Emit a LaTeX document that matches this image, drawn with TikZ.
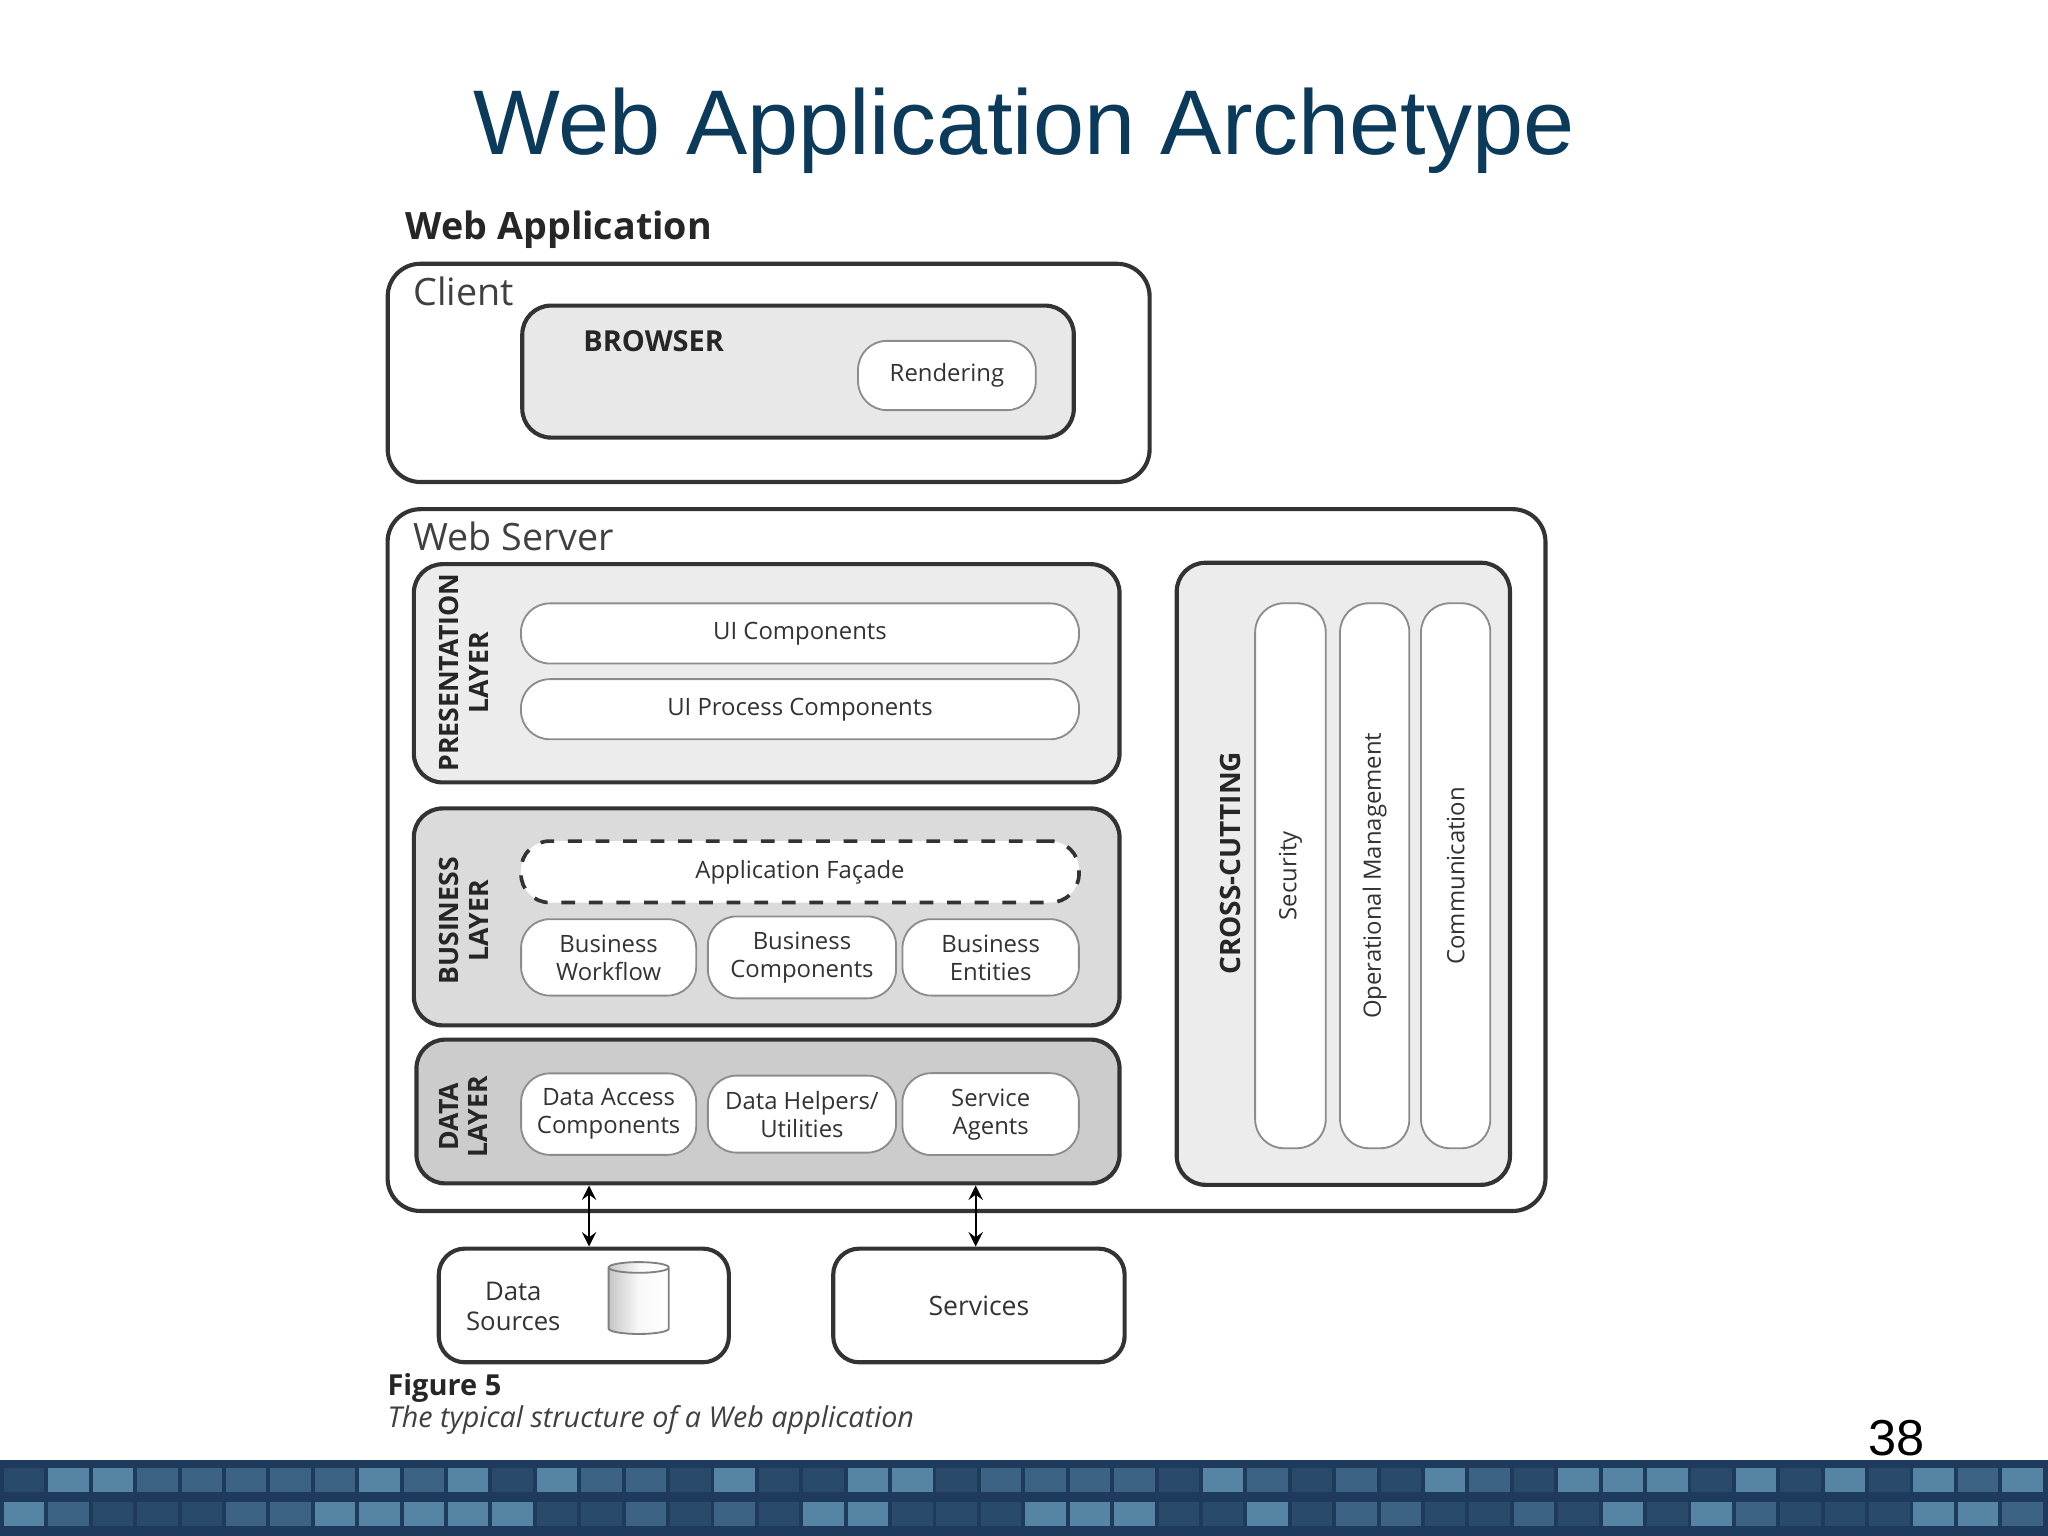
\documentclass[tikz,border=0pt]{standalone}
\usepackage{fontspec}
\setmainfont{Open Sans}
\newfontfamily\titlefont{Liberation Sans}
\usetikzlibrary{shapes.geometric,arrows,positioning}
\definecolor{navy}{HTML}{0B3A5A}
\definecolor{barblue}{HTML}{1E3A5C}
\tikzstyle{arrow} = [thin,<->,>=stealth]
\tikzstyle{frame} = [rectangle, rounded corners=0.25cm, draw=black!80, line width=0.9pt, fill=white]
\tikzstyle{layer} = [rectangle, rounded corners=0.22cm, draw=black!80, line width=0.9pt]
\tikzstyle{pill} = [rectangle, rounded corners=0.22cm, draw=black!45, fill=white, align=center,
font=\fontsize{5.2}{6.1}\selectfont, text=black!80]
\tikzstyle{tag} = [font=\bfseries\fontsize{5.8}{6.4}\selectfont, align=center, text=black!85]
\begin{document}
\begin{tikzpicture}[x=0.01cm, y=-0.01cm]
                 \useasboundingbox (0,0) rectangle (1568,1176);
                 \fill[white] (0,0) rectangle (1568,1176);
                 \node (title) [font=\titlefont\fontsize{20}{24}\selectfont, text=navy] at (784,100) {Web Application Archetype};
                 \node (app) [anchor=west, inner sep=0pt, font=\bfseries\fontsize{8.2}{10}\selectfont, text=black!85] at (310,176) {Web Application};
                 % client
                 \node (client) [frame, minimum width=5.83cm, minimum height=1.67cm] at (588.5,285.5) {};
                 \node (clienttxt) [anchor=west, inner sep=0pt, font=\fontsize{8.2}{10}\selectfont, text=black!75] at (316,223) {Client};
                 \node (browser) [layer, fill=gray!18, minimum width=4.22cm, minimum height=1.01cm] at (611,284.5) {};
                 \node (browsertxt) [tag, anchor=west, inner sep=0pt, font=\bfseries\fontsize{6.3}{7}\selectfont] at (446,261) {BROWSER};
                 \node (render) [pill, minimum width=1.36cm, minimum height=0.53cm] at (725,287.5) {Rendering};
                 % web server
                 \node (server) [frame, minimum width=8.86cm, minimum height=5.37cm] at (740,658.5) {};
                 \node (servertxt) [anchor=west, inner sep=0pt, font=\fontsize{8.2}{10}\selectfont, text=black!75] at (316,411) {Web Server};
                 \node (pres) [layer, fill=gray!15, minimum width=5.40cm, minimum height=1.67cm] at (587,515.5) {};
                 \node (prestxt) [tag, rotate=90] at (355,515) {PRESENTATION\\LAYER};
                 \node (ui) [pill, minimum width=4.27cm, minimum height=0.46cm] at (612.5,485) {UI Components};
                 \node (uip) [pill, minimum width=4.27cm, minimum height=0.46cm] at (612.5,543) {UI Process Components};
                 \node (bus) [layer, fill=gray!28, minimum width=5.40cm, minimum height=1.66cm] at (587,702) {};
                 \node (bustxt) [tag, rotate=90] at (355,705) {BUSINESS\\LAYER};
                 \node (facade) [pill, dashed, draw=black!80, line width=0.8pt, minimum width=4.27cm, minimum height=0.47cm] at (612.5,667.5) {Application Façade};
                 \node (bwf) [pill, minimum width=1.34cm, minimum height=0.54cm] at (466,733) {Business\\Workflow};
                 \node (bcomp) [pill, minimum width=1.44cm, minimum height=0.54cm] at (614,733) {Business\\Components};
                 \node (bent) [pill, minimum width=1.35cm, minimum height=0.54cm] at (758.5,733) {Business\\Entities};
                 \node (data) [layer, fill=gray!40, minimum width=5.38cm, minimum height=1.10cm] at (588,851) {};
                 \node (datatxt) [tag, rotate=90] at (355,855) {DATA\\LAYER};
                 \node (dac) [pill, minimum width=1.34cm, minimum height=0.54cm] at (466,853) {Data Access\\Components};
                 \node (dhu) [pill, minimum width=1.44cm, minimum height=0.54cm] at (614,853) {Data Helpers/\\Utilities};
                 \node (sag) [pill, minimum width=1.35cm, minimum height=0.54cm] at (758.5,853) {Service\\Agents};
                 % cross-cutting
                 \node (cross) [layer, fill=gray!15, minimum width=2.55cm, minimum height=4.76cm] at (1028.5,669) {};
                 \node (crosstxt) [tag, rotate=90, font=\bfseries\fontsize{6.1}{7}\selectfont] at (942,661) {CROSS-CUTTING};
                 \node (sec) [pill, rotate=90, minimum width=4.17cm, minimum height=0.54cm] at (988,670.5) {Security};
                 \node (opm) [pill, rotate=90, minimum width=4.17cm, minimum height=0.53cm] at (1052.5,670.5) {Operational Management};
                 \node (com) [pill, rotate=90, minimum width=4.17cm, minimum height=0.53cm] at (1114.5,670.5) {Communication};
                 % external
                 \node (ds) [frame, rounded corners=0.2cm, minimum width=2.22cm, minimum height=0.87cm] at (447,999.5) {};
                 \node (dstxt) [pill, draw=none, fill=none, font=\fontsize{5.6}{6.6}\selectfont] at (393,1000) {Data\\Sources};
                 \node (cyl) [cylinder, shape border rotate=90, aspect=0.35, draw=black!50, minimum width=0.46cm, minimum height=0.55cm,
                 left color=gray!45, right color=white, middle color=gray!5] at (489,998) {};
                 \node (svc) [frame, rounded corners=0.2cm, minimum width=2.23cm, minimum height=0.87cm, font=\fontsize{5.8}{7}\selectfont, text=black!80] at (749.5,999.5) {Services};
                 \draw [arrow] (data.south -| 451,0) -- (ds.north -| 451,0);
                 \draw [arrow] (data.south -| 747,0) -- (svc.north -| 747,0);
                 \node (fig) [anchor=west, inner sep=0pt, font=\bfseries\fontsize{6.3}{8}\selectfont, text=black!85] at (296,1063) {Figure 5};
                 \node (cap) [anchor=west, inner sep=0pt, font=\itshape\fontsize{6.25}{8}\selectfont, text=black!75] at (296,1087) {The typical structure of a Web application};
                 \node (page) [font=\titlefont\fontsize{11}{13}\selectfont] at (1452,1101) {38};
                 % bottom bar
                 \fill[barblue] (0,1118) rectangle (1568,1176);
                 \pgfmathsetseed{7}
                 \foreach \i in {0,...,45}{
                   \foreach \j in {0,1}{
                     \pgfmathsetmacro{\r}{rnd}
                     \pgfmathsetmacro{\shade}{\r<0.35 ? 45 : (\r<0.7 ? 25 : 10)}
                     \fill[blue!30!cyan!40!white, opacity=\shade/100] (3+34*\i,1124+26*\j) rectangle ++(31,18);
                   }
                 }
             \end{tikzpicture}
\end{document}
